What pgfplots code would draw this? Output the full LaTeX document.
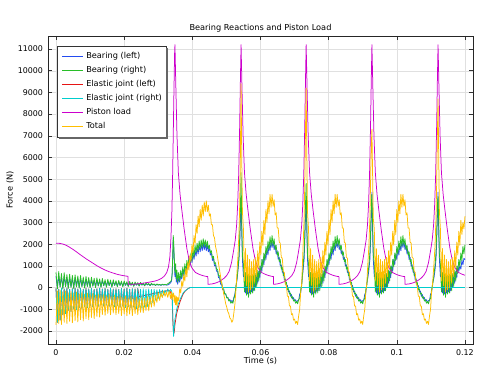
\documentclass[border=0pt]{standalone}
\usepackage{fontspec}
\setmainfont{DejaVu Sans}
\usepackage{pgfplots}
\pgfplotsset{compat=1.18}
\usepackage{pgfplotstable}
\definecolor{cB}{RGB}{35,75,240}
\definecolor{cG}{RGB}{40,190,40}
\definecolor{cR}{RGB}{230,20,20}
\definecolor{cC}{RGB}{0,205,205}
\definecolor{cM}{RGB}{204,0,204}
\definecolor{cO}{RGB}{255,190,0}

\pgfplotstableread{
t G B O
0.0000 700 520 -1720
0.0004 -60 -10 -150
0.0008 740 550 -1650
0.0012 20 45 -110
0.0016 650 485 -1700
0.0020 -70 -20 -200
0.0024 690 510 -1600
0.0028 40 60 -150
0.0032 600 450 -1660
0.0036 -40 0 -240
0.0040 620 465 -1560
0.0044 10 35 -180
0.0048 560 420 -1620
0.0052 -50 -5 -260
0.0056 590 445 -1520
0.0060 30 50 -200
0.0064 540 410 -1580
0.0068 -30 10 -290
0.0072 560 420 -1480
0.0076 40 60 -230
0.0080 490 375 -1540
0.0084 -20 15 -310
0.0088 520 395 -1430
0.0092 50 65 -250
0.0096 470 360 -1480
0.0100 -10 25 -330
0.0104 480 365 -1380
0.0108 60 70 -270
0.0112 430 330 -1430
0.0116 0 30 -350
0.0120 450 345 -1330
0.0124 70 80 -290
0.0128 400 310 -1360
0.0132 10 40 -360
0.0136 420 325 -1240
0.0140 80 85 -310
0.0144 370 290 -1280
0.0148 20 45 -390
0.0152 390 305 -1190
0.0156 90 95 -330
0.0160 350 275 -1250
0.0164 20 45 -410
0.0168 360 280 -1170
0.0172 100 100 -350
0.0176 320 255 -1250
0.0180 40 60 -430
0.0184 330 260 -1190
0.0188 100 100 -370
0.0192 300 240 -1290
0.0196 40 60 -450
0.0200 310 245 -1220
0.0204 110 105 -390
0.0208 270 220 -1300
0.0212 50 65 -470
0.0216 280 225 -1220
0.0220 110 105 -410
0.0224 250 205 -1290
0.0228 60 70 -490
0.0232 260 210 -1200
0.0236 120 115 -430
0.0240 230 190 -1250
0.0244 70 80 -500
0.0248 240 200 -1140
0.0252 120 115 -440
0.0256 210 175 -1160
0.0260 80 85 -490
0.0264 220 185 -1060
0.0268 130 120 -410
0.0272 190 165 -1070
0.0276 90 95 -440
0.0280 200 170 -900
0.0284 130 120 -340
0.0288 170 150 -860
0.0292 100 100 -350
0.0296 170 150 -680
0.0300 120 115 -240
0.0304 150 135 -590
0.0308 110 105 -250
0.0312 160 140 -460
0.0316 130 120 -170
0.0320 150 135 -400
0.0324 120 115 -200
0.0328 180 120 -450
0.0332 220 160 -150
0.0336 280 220 -500
0.0339 350 300 -200
0.0341 700 650 -550
0.0343 1800 1700 -300
0.0344 2400 2300 -400
0.0345 2200 2000 -250
0.0347 1400 1200 -700
0.0349 700 500 -350
0.0351 1100 800 -800
0.0353 400 250 -400
0.0355 800 550 -850
0.0357 250 150 -450
0.0360 700 450 -600
0.0363 300 250 -50
0.0366 800 550 -250
0.0369 450 400 300
0.0372 950 750 50
0.0375 550 550 600
0.0378 1100 900 300
0.0381 700 700 900
0.0384 1250 1050 500
0.0387 900 850 1200
0.0390 1450 1250 800
0.0393 1050 1000 1500
0.0396 1600 1400 1200
0.0399 1250 1150 2000
0.0402 1800 1550 1600
0.0405 1400 1300 2400
0.0408 1950 1700 2000
0.0411 1600 1450 2900
0.0414 2050 1850 2500
0.0417 1700 1550 3300
0.0420 2150 1950 2800
0.0423 1800 1650 3600
0.0426 2200 2000 3100
0.0429 1850 1700 3800
0.0432 2250 2050 3300
0.0435 1900 1750 3950
0.0438 2200 2000 3500
0.0441 1850 1700 4000
0.0444 2150 1950 3500
0.0447 1800 1650 3800
0.0450 1950 1800 3300
0.0453 1600 1500 3400
0.0456 1700 1600 2900
0.0459 1350 1250 2900
0.0462 1450 1350 2400
0.0465 1100 1000 2300
0.0468 1150 1050 1900
0.0471 850 750 1700
0.0474 850 750 1400
0.0477 550 450 1100
0.0480 550 450 800
0.0483 250 150 500
0.0486 250 150 200
0.0489 -50 -100 0
0.0492 -50 -100 -300
0.0495 -300 -300 -500
0.0498 -280 -300 -750
0.0501 -480 -450 -900
0.0504 -450 -450 -1100
0.0507 -620 -580 -1200
0.0510 -580 -550 -1400
0.0513 -720 -650 -1450
0.0516 -650 -600 -1600
0.0519 -720 -650 -1500
0.0522 -500 -450 -1150
0.0525 -350 -300 -750
0.0528 50 50 -100
0.0531 400 350 700
0.0534 900 800 1500
0.0537 1500 1300 2600
0.0539 2300 2000 3800
0.0541 3500 3000 6000
0.0543 5300 4100 9400
0.0545 3000 2600 6000
0.0547 1500 1300 3500
0.0550 1100 500 2700
0.0553 -200 600 300
0.0556 700 -250 1800
0.0559 -350 500 100
0.0562 650 -300 1500
0.0565 -450 450 -200
0.0568 600 -250 1300
0.0571 -300 400 -100
0.0574 550 -200 1200
0.0577 -250 450 0
0.0580 600 -150 1300
0.0583 -150 450 200
0.0586 650 0 1400
0.0589 50 600 500
0.0592 800 200 1700
0.0595 300 750 900
0.0598 1000 450 2100
0.0601 650 1000 1500
0.0604 1300 750 2600
0.0607 950 1300 1950
0.0610 1600 1050 3100
0.0613 1250 1550 2450
0.0616 1900 1300 3600
0.0619 1550 1800 3000
0.0622 2150 1500 4000
0.0625 1750 2000 3400
0.0628 2350 1700 4300
0.0631 1900 2150 3700
0.0634 2400 1850 4300
0.0637 1950 2150 3750
0.0640 2250 1750 4050
0.0643 1750 1950 3350
0.0646 1950 1550 3450
0.0649 1500 1700 2750
0.0652 1650 1300 2750
0.0655 1200 1400 2100
0.0658 1300 1000 2050
0.0661 850 1050 1400
0.0664 950 700 1350
0.0667 550 750 750
0.0670 600 350 700
0.0673 200 400 150
0.0676 250 50 100
0.0679 -100 100 -400
0.0682 -50 -200 -400
0.0685 -300 -150 -850
0.0688 -250 -400 -850
0.0691 -480 -320 -1250
0.0694 -420 -520 -1200
0.0697 -620 -460 -1500
0.0700 -560 -620 -1450
0.0703 -720 -560 -1650
0.0706 -640 -680 -1550
0.0709 -750 -600 -1700
0.0712 -550 -600 -1300
0.0715 -500 -300 -1000
0.0718 -100 -250 -200
0.0721 100 200 200
0.0725 1000 800 1900
0.0728 1600 1300 3200
0.0730 2500 2100 4800
0.0732 3800 3200 7200
0.0734 4800 4000 9200
0.0736 3000 2600 6000
0.0738 1500 1300 3500
0.0741 1100 500 2700
0.0744 -200 600 300
0.0747 700 -250 1800
0.0750 -350 500 100
0.0753 650 -300 1500
0.0756 -450 450 -200
0.0759 600 -250 1300
0.0762 -300 400 -100
0.0765 550 -200 1200
0.0768 -250 450 0
0.0771 600 -150 1300
0.0774 -150 450 200
0.0777 650 0 1400
0.0780 50 600 500
0.0783 800 200 1700
0.0786 300 750 900
0.0789 1000 450 2100
0.0792 650 1000 1500
0.0795 1300 750 2600
0.0798 950 1300 1950
0.0801 1600 1050 3100
0.0804 1250 1550 2450
0.0807 1900 1300 3600
0.0810 1550 1800 3000
0.0813 2150 1500 4000
0.0816 1750 2000 3400
0.0819 2350 1700 4300
0.0822 1900 2150 3700
0.0825 2400 1850 4300
0.0828 1950 2150 3750
0.0831 2250 1750 4050
0.0834 1750 1950 3350
0.0837 1950 1550 3450
0.0840 1500 1700 2750
0.0843 1650 1300 2750
0.0846 1200 1400 2100
0.0849 1300 1000 2050
0.0852 850 1050 1400
0.0855 950 700 1350
0.0858 550 750 750
0.0861 600 350 700
0.0864 200 400 150
0.0867 250 50 100
0.0870 -100 100 -400
0.0873 -50 -200 -400
0.0876 -300 -150 -850
0.0879 -250 -400 -850
0.0882 -480 -320 -1250
0.0885 -420 -520 -1200
0.0888 -620 -460 -1500
0.0891 -560 -620 -1450
0.0894 -720 -560 -1650
0.0897 -640 -680 -1550
0.0900 -750 -600 -1700
0.0903 -550 -600 -1300
0.0906 -500 -300 -1000
0.0909 -100 -250 -200
0.0912 100 200 200
0.0915 600 450 1100
0.0918 1000 800 1900
0.0921 1600 1300 3200
0.0923 2500 2100 4800
0.0925 3800 3200 6500
0.0927 4300 4400 7300
0.0929 3000 2600 5200
0.0931 1500 1300 3200
0.0934 1100 500 2700
0.0937 -200 600 300
0.0940 700 -250 1800
0.0943 -350 500 100
0.0946 650 -300 1500
0.0949 -450 450 -200
0.0952 600 -250 1300
0.0955 -300 400 -100
0.0958 550 -200 1200
0.0961 -250 450 0
0.0964 600 -150 1300
0.0967 -150 450 200
0.0970 650 0 1400
0.0973 50 600 500
0.0976 800 200 1700
0.0979 300 750 900
0.0982 1000 450 2100
0.0985 650 1000 1500
0.0988 1300 750 2600
0.0991 950 1300 1950
0.0994 1600 1050 3100
0.0997 1250 1550 2450
0.1000 1900 1300 3600
0.1003 1550 1800 3000
0.1006 2150 1500 4000
0.1009 1750 2000 3400
0.1012 2350 1700 4300
0.1015 1900 2150 3700
0.1018 2400 1850 4300
0.1021 1950 2150 3750
0.1024 2250 1750 4050
0.1027 1750 1950 3350
0.1030 1950 1550 3450
0.1033 1500 1700 2750
0.1036 1650 1300 2750
0.1039 1200 1400 2100
0.1042 1300 1000 2050
0.1045 850 1050 1400
0.1048 950 700 1350
0.1051 550 750 750
0.1054 600 350 700
0.1057 200 400 150
0.1060 250 50 100
0.1063 -100 100 -400
0.1066 -50 -200 -400
0.1069 -300 -150 -850
0.1072 -250 -400 -850
0.1075 -480 -320 -1250
0.1078 -420 -520 -1200
0.1081 -620 -460 -1500
0.1084 -560 -620 -1450
0.1087 -720 -560 -1650
0.1090 -640 -680 -1550
0.1093 -750 -600 -1700
0.1096 -550 -600 -1300
0.1099 -500 -300 -1000
0.1102 -100 -250 -200
0.1105 100 200 200
0.1109 600 450 1100
0.1112 1000 800 1900
0.1115 1600 1300 3200
0.1117 2500 2100 4800
0.1119 3800 3200 7000
0.1121 4200 4400 8700
0.1123 3000 2600 6000
0.1125 1500 1300 3500
0.1128 1100 500 2700
0.1131 -200 600 300
0.1134 700 -250 1800
0.1137 -350 500 100
0.1140 650 -300 1500
0.1143 -450 450 -200
0.1146 600 -250 1300
0.1149 -300 400 -100
0.1152 550 -200 1200
0.1155 -250 450 0
0.1158 600 -150 1300
0.1161 -150 450 200
0.1164 650 0 1400
0.1167 50 600 500
0.1170 800 200 1700
0.1173 300 750 900
0.1176 1000 450 2100
0.1179 650 1000 1500
0.1182 1300 750 2600
0.1185 950 1000 1950
0.1188 1600 850 3100
0.1191 1250 1250 2450
0.1194 1900 1050 3000
0.1197 1550 1350 2700
0.1200 1980 1290 3290
}\tot

\pgfplotstableread{
t R C
0.0000 -40 -40
0.0004 -1600 -1600
0.0008 -70 -70
0.0012 -1500 -1500
0.0016 -30 -30
0.0020 -1250 -1250
0.0024 -60 -60
0.0028 -1200 -1200
0.0032 -20 -20
0.0036 -1050 -1050
0.0040 -80 -80
0.0044 -1100 -1100
0.0048 -50 -50
0.0052 -980 -980
0.0056 -30 -30
0.0060 -1020 -1020
0.0064 -60 -60
0.0068 -920 -920
0.0072 -40 -40
0.0076 -960 -960
0.0080 -70 -70
0.0084 -880 -880
0.0088 -30 -30
0.0092 -930 -930
0.0096 -60 -60
0.0100 -840 -840
0.0104 -40 -40
0.0108 -880 -880
0.0112 -80 -80
0.0116 -800 -800
0.0120 -50 -50
0.0124 -860 -860
0.0128 -30 -30
0.0132 -790 -790
0.0136 -60 -60
0.0140 -850 -850
0.0144 -40 -40
0.0148 -800 -800
0.0152 -70 -70
0.0156 -860 -860
0.0160 -30 -30
0.0164 -810 -810
0.0168 -60 -60
0.0172 -880 -880
0.0176 -50 -50
0.0180 -830 -830
0.0184 -80 -80
0.0188 -900 -900
0.0192 -40 -40
0.0196 -850 -850
0.0200 -60 -60
0.0204 -920 -920
0.0208 -30 -30
0.0212 -870 -870
0.0216 -70 -70
0.0220 -940 -940
0.0224 -50 -50
0.0228 -890 -890
0.0232 -60 -60
0.0236 -960 -960
0.0240 -40 -40
0.0244 -420 -900
0.0248 -405 -70
0.0252 -390 -950
0.0256 -380 -50
0.0260 -365 -900
0.0264 -350 -80
0.0268 -335 -880
0.0272 -320 -60
0.0276 -310 -760
0.0280 -295 -90
0.0284 -280 -700
0.0288 -265 -80
0.0292 -250 -580
0.0296 -240 -100
0.0300 -225 -500
0.0304 -210 -90
0.0308 -195 -410
0.0312 -180 -110
0.0316 -170 -350
0.0320 -160 -120
0.0324 -150 -280
0.0328 -140 -60
0.0332 -130 -220
0.0336 -200 -80
0.0339 -350 -150
0.0341 -600 -300
0.0343 -1600 -1500
0.0345 -2150 -2250
0.0347 -2050 -1800
0.0349 -1700 -1450
0.0352 -1400 -1200
0.0354 -1200 -1000
0.0359 -900 -750
0.0364 -650 -550
0.0369 -450 -380
0.0373 -300 -250
0.0378 -180 -160
0.0383 -100 -100
0.0388 -40 -40
0.0393 0 0
0.1200 0 0
}\el

\pgfplotstableread{
t P
0.0000 2050
0.0010 2040
0.0020 2010
0.0030 1950
0.0040 1860
0.0050 1760
0.0060 1650
0.0070 1530
0.0080 1420
0.0090 1310
0.0100 1210
0.0110 1110
0.0120 1010
0.0130 920
0.0140 840
0.0150 770
0.0160 710
0.0170 660
0.0180 610
0.0190 575
0.0200 545
0.0211 520
0.0212 150
0.0230 160
0.0250 190
0.0270 240
0.0290 300
0.0300 350
0.0310 430
0.0318 530
0.0325 700
0.0330 950
0.0334 1400
0.0337 2200
0.0340 3500
0.0342 5000
0.0344 7000
0.0346 9000
0.0348 10800
0.0349 11200
0.0352 9000
0.0355 7000
0.0359 5300
0.0364 4300
0.0369 3600
0.0376 2700
0.0384 1800
0.0391 1250
0.0399 900
0.0409 700
0.0419 620
0.0429 560
0.0439 520
0.04455 510
0.04460 150
0.0458 170
0.0468 210
0.0478 270
0.0486 350
0.0493 430
0.0501 560
0.0508 750
0.0515 1150
0.0521 1700
0.0526 2200
0.0530 2900
0.0533 3800
0.0536 5200
0.0539 7500
0.0541 9500
0.0543 11200
0.0546 9000
0.0549 7000
0.0553 5300
0.0558 4300
0.0563 3600
0.0570 2700
0.0578 1800
0.0585 1250
0.0593 900
0.0603 700
0.0613 620
0.0623 560
0.0633 520
0.06380 510
0.06385 150
0.0649 170
0.0659 210
0.0669 270
0.0677 350
0.0684 430
0.0692 560
0.0699 750
0.0706 1150
0.0712 1700
0.0717 2200
0.0721 2900
0.0724 3800
0.0727 5200
0.0730 7500
0.0732 9500
0.0734 11200
0.0737 9000
0.0740 7000
0.0744 5300
0.0749 4300
0.0754 3600
0.0761 2700
0.0769 1800
0.0776 1250
0.0784 900
0.0794 700
0.0804 620
0.0814 560
0.0824 520
0.08300 510
0.08305 150
0.0842 170
0.0852 210
0.0862 270
0.0870 350
0.0877 430
0.0885 560
0.0892 750
0.0899 1150
0.0905 1700
0.0910 2200
0.0914 2900
0.0917 3800
0.0920 5200
0.0923 7500
0.0925 9500
0.0927 11200
0.0930 9000
0.0933 7000
0.0937 5300
0.0942 4300
0.0947 3600
0.0954 2700
0.0962 1800
0.0969 1250
0.0977 900
0.0987 700
0.0997 620
0.1007 560
0.1017 520
0.10235 510
0.10240 150
0.1036 170
0.1046 210
0.1056 270
0.1064 350
0.1071 430
0.1079 560
0.1086 750
0.1093 1150
0.1099 1700
0.1104 2200
0.1108 2900
0.1111 3800
0.1114 5200
0.1117 7500
0.1119 9500
0.1121 11200
0.1124 9000
0.1127 7000
0.1131 5300
0.1136 4300
0.1141 3600
0.1148 2700
0.1156 1800
0.1163 1250
0.1171 900
0.1181 700
0.1191 620
0.1200 570
}\pl

\begin{document}
\begin{tikzpicture}
\def\fs{\fontsize{8.2}{10}\selectfont}
\def\ft{\fontsize{7.9}{9.5}\selectfont}
\begin{axis}[name=ax, scale only axis, width=425pt, height=308pt,
  xmin=-0.00235, xmax=0.12236, ymin=-2600, ymax=11600,
  scaled ticks=false,
  xtick={0,0.02,0.04,0.06,0.08,0.1,0.12},
  xticklabels={0,0.02,0.04,0.06,0.08,0.1,0.12},
  ytick={-2000,-1000,0,1000,2000,3000,4000,5000,6000,7000,8000,9000,10000,11000},
  yticklabels={-2000,-1000,0,1000,2000,3000,4000,5000,6000,7000,8000,9000,10000,11000},
  grid=major, major grid style={line width=0.4pt, black!12},
  tick align=inside, major tick length=4pt,
  every tick/.style={black!80, line width=0.5pt},
  axis line style={black!85, line width=0.9pt},
  tick label style={font=\ft},
  xticklabel style={yshift=-2pt},
  yticklabel style={xshift=-1.5pt},
  every axis title shift=0pt,
  title={Bearing Reactions and Piston Load},
  title style={font=\fs, at={(axis description cs:0.5,1.026)}, anchor=center},
  xlabel={Time (s)},
  xlabel style={font=\fs, at={(axis description cs:0.5,-0.0536)}, anchor=center},
  ylabel={Force (N)},
  ylabel style={font=\fs, at={(axis description cs:-0.0894,0.5)}, anchor=center},
  legend cell align=left,
  legend image code/.code={\path (0pt,0pt) (23pt,0pt); \draw[#1, line width=1.4pt] (2pt,0pt) -- (23pt,0pt);},
  legend style={name=leg, at={(axis description cs:0.0212,0.9675)}, anchor=north west,
    draw=none, fill=white, font=\fs,
    row sep=2.5pt, column sep=1pt, inner xsep=2.5pt, inner ysep=4.5pt,
    nodes={inner sep=1.5pt, text height=6.5pt, text depth=2pt}},
  every axis plot/.append style={line width=0.75pt, line join=round},
]
\addplot[color=cB, draw=cB] table[x=t,y=B]{\tot};
\addlegendentry{Bearing (left)}
\addplot[color=cG, draw=cG] table[x=t,y=G]{\tot};
\addlegendentry{Bearing (right)}
\addplot[color=cR, draw=cR] table[x=t,y=R]{\el};
\addlegendentry{Elastic joint (left)}
\addplot[color=cC, draw=cC] table[x=t,y=C]{\el};
\addlegendentry{Elastic joint (right)}
\addplot[color=cM, draw=cM] table[x=t,y=P]{\pl};
\addlegendentry{Piston load}
\addplot[color=cO, draw=cO] table[x=t,y=O]{\tot};
\addlegendentry{Total}
\end{axis}
\draw[black!80, line width=0.6pt] (leg.south west) rectangle (leg.north east);
\fill[black!60] ([shift={(0.3pt,-2pt)}]leg.north east) rectangle ([shift={(2pt,-2pt)}]leg.south east);
\fill[black!60] ([shift={(2pt,-0.3pt)}]leg.south west) rectangle ([shift={(2pt,-2pt)}]leg.south east);
\pgfresetboundingbox
\path[use as bounding box] ([shift={(-48pt,-28pt)}]ax.south west) rectangle ([shift={(8pt,36pt)}]ax.north east);
\end{tikzpicture}
\end{document}
